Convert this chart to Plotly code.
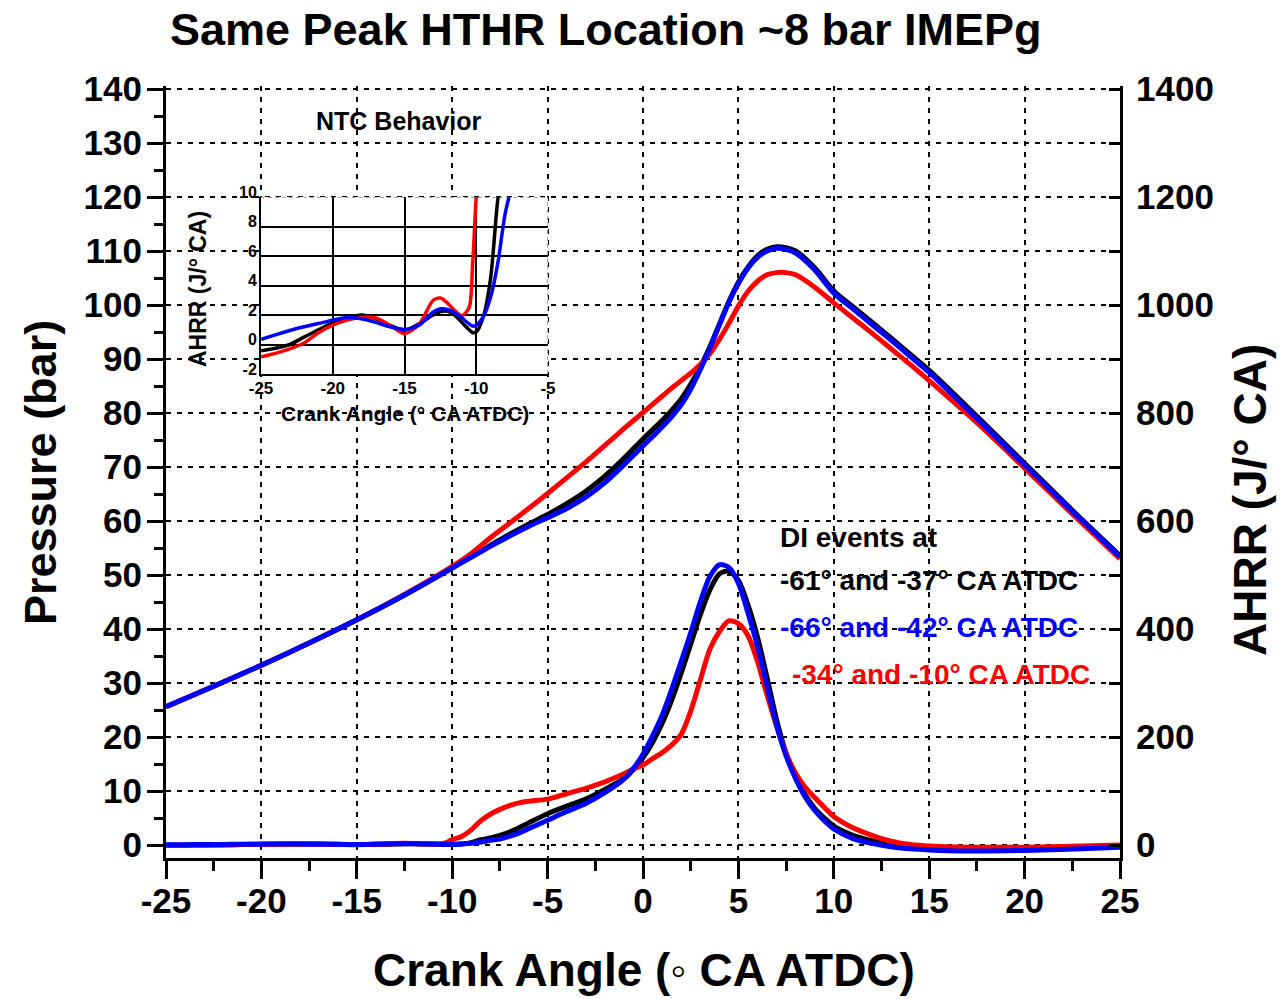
import plotly.graph_objects as go

# ---------------- data ----------------
# Pressure traces (bar) vs crank angle
x_p = [-25, -22.5, -20, -17.5, -15, -12.5, -10, -9, -8, -7, -6, -5, -4, -3, -2, -1,
       0, 0.5, 1, 1.5, 2, 2.5, 3, 3.5, 4, 4.5, 5, 5.5, 6, 6.5, 7, 7.5, 8,
       9, 10, 11, 12, 13, 14, 15, 17.5, 20, 22.5, 25]
p_black = [25.6, 29.4, 33.3, 37.4, 41.7, 46.3, 51.3, 53.4, 55.5, 57.5, 59.4, 61.2, 63.2, 65.5, 68.3, 71.6,
           75.2, 76.9, 78.6, 80.5, 82.6, 85.3, 88.5, 92.2, 96.4, 100.6, 104.2, 107.0, 109.1, 110.3, 110.8, 110.6, 110.0,
           106.9, 102.6, 99.7, 96.8, 93.9, 90.9, 87.9, 79.4, 70.7, 62.0, 53.6]
p_blue = [25.6, 29.4, 33.3, 37.4, 41.7, 46.3, 51.3, 53.3, 55.3, 57.2, 59.0, 60.6, 62.3, 64.4, 67.1, 70.4,
          73.9, 75.6, 77.4, 79.3, 81.5, 84.4, 88.0, 92.0, 96.3, 100.5, 104.0, 106.8, 108.8, 110.0, 110.5, 110.3, 109.6,
          106.5, 102.2, 99.3, 96.4, 93.5, 90.5, 87.5, 79.0, 70.4, 61.8, 53.4]
p_red = [25.6, 29.4, 33.3, 37.4, 41.7, 46.4, 51.6, 54.0, 56.9, 59.6, 62.3, 65.1, 68.0, 70.9, 74.0, 77.1,
         80.1, 81.6, 83.1, 84.6, 86.0, 87.4, 89.0, 91.0, 93.6, 96.6, 99.8, 102.5, 104.4, 105.6, 106.0, 106.0, 105.6,
         103.3, 100.4, 97.6, 94.8, 91.9, 89.0, 86.0, 78.2, 69.8, 61.3, 53.0]

# Apparent heat release rate (J/deg CA) vs crank angle
x_h = [-25, -24, -23, -22, -21, -20, -19, -18, -17, -16, -15, -14, -13,
       -12.5, -12, -11.5, -11, -10.5, -10.25, -10, -9.5, -9, -8.5, -8, -7.5, -7, -6.5, -6,
       -5, -4, -3, -2, -1, -0.5,
       0, 0.5, 1, 1.5, 2, 2.5, 3, 3.5, 4, 4.5, 5, 5.5, 6, 6.5, 7, 7.5, 8, 8.5, 9, 9.5, 10,
       11, 12, 13, 14, 15, 17, 20, 23, 25]
h_black = [-0.43, -0.25, 0.0, 0.5, 1.0, 1.47, 1.8, 2.0, 1.75, 1.3, 0.97, 1.4, 2.0,
           2.22, 2.25, 2.0, 1.5, 1.0, 0.8, 0.85, 1.9, 4.5, 9.8, 13, 18, 24, 32, 41,
           58, 72, 85, 103, 123, 140,
           162, 190, 225, 268, 318, 372, 426, 472, 502, 507, 490, 445, 385, 310, 232, 170, 125, 93, 68, 50, 35,
           18, 8, 0, -4, -6, -8, -7, -4, -1]
h_blue = [0.35, 0.65, 0.95, 1.2, 1.42, 1.65, 1.83, 1.75, 1.5, 1.2, 1.02, 1.3, 2.2,
          2.42, 2.38, 2.15, 1.8, 1.4, 1.25, 1.3, 1.9, 3.2, 5.5, 8.8, 11, 16, 22, 30,
          46, 62, 77, 97, 122, 142,
          168, 202, 240, 288, 340, 393, 450, 497, 519, 514, 485, 430, 368, 295, 222, 165, 123, 89, 64, 45, 30,
          12, 3, -3, -7, -9, -11, -10, -7, -4]
h_red = [-0.84, -0.6, -0.3, 0.1, 0.8, 1.31, 1.65, 1.85, 1.8, 1.3, 0.74, 1.35, 3.0,
         3.15, 2.8, 2.3, 1.95, 2.5, 5.5, 10, 16, 28, 45, 57, 66, 73, 78, 81,
         85, 95, 105, 117, 132, 141,
         148, 160, 171, 185, 205, 248, 305, 362, 395, 415, 410, 388, 340, 278, 220, 170, 133, 107, 88, 70, 53,
         32, 18, 7, 1, -2, -4, -4, -2, 0]

# Tick labels
x_ticks = [-25, -20, -15, -10, -5, 0, 5, 10, 15, 20, 25]
x_ticktext = ["-25", "-20", "-15", "-10", "-5", "0", "5", "10", "15", "20", "25"]
inset_x_ticks = [-25, -20, -15, -10, -5]
inset_x_ticktext = ["-25", "-20", "-15", "-10", "-5"]
inset_y_ticks = [-2, 0, 2, 4, 6, 8, 10]
inset_y_ticktext = ["-2", "0", "2", "4", "6", "8", "10"]

legend_lines = ["-61° and -37° CA ATDC", "-66° and -42° CA ATDC", "-34° and -10° CA ATDC"]

# ---------------- figure ----------------
W, H = 1281, 999
FONT = "Liberation Sans, Arial, sans-serif"


def fx(p):
    return p / W


def fy(p):
    return 1 - p / H


def bold(size, color="black"):
    return dict(family=FONT, size=size, color=color, weight="bold")


fig = go.Figure()

series = [("black", p_black, h_black), ("red", p_red, h_red), ("blue", p_blue, h_blue)]
line_shape = dict(shape="spline", smoothing=0.8)

for c, p, h in series:
    fig.add_trace(go.Scatter(x=x_p, y=p, mode="lines", xaxis="x", yaxis="y",
                             line=dict(color=c, width=5, **line_shape), hoverinfo="skip"))
for c, p, h in series:
    fig.add_trace(go.Scatter(x=x_h, y=h, mode="lines", xaxis="x", yaxis="y2",
                             line=dict(color=c, width=5, **line_shape), hoverinfo="skip"))
for c, p, h in series:
    fig.add_trace(go.Scatter(x=x_h, y=h, mode="lines", xaxis="x3", yaxis="y3",
                             line=dict(color=c, width=3.5, **line_shape), hoverinfo="skip"))

tick_common = dict(tickcolor="black", tickwidth=3, showline=True, linewidth=3, linecolor="black",
                   zeroline=False, tickfont=bold(35), automargin=False)

fig.update_layout(
    width=W, height=H, margin=dict(l=0, r=0, t=0, b=0, pad=0, autoexpand=False),
    paper_bgcolor="white", plot_bgcolor="white", showlegend=False,
    xaxis=dict(domain=[fx(166), fx(1120)], range=[-25, 25], anchor="y",
               tickmode="array", tickvals=x_ticks, ticktext=x_ticktext,
               ticks="outside", ticklen=18, ticklabelstandoff=-8,
               showgrid=True, gridcolor="black", gridwidth=2, griddash="5px,6px",
               minor=dict(tickmode="linear", dtick=2.5, tick0=-25, ticklen=10, tickwidth=3,
                          tickcolor="black", ticks="outside", showgrid=False),
               **tick_common),
    yaxis=dict(domain=[fy(858), fy(86.3)], range=[-2.4, 140.5], anchor="x",
               tickmode="linear", tick0=0, dtick=10, ticks="outside", ticklen=16,
               ticklabelstandoff=-2,
               showgrid=True, gridcolor="black", gridwidth=2, griddash="5px,6px",
               minor=dict(dtick=5, tick0=0, ticklen=9, tickwidth=3, tickcolor="black",
                          ticks="outside", showgrid=False),
               **tick_common),
    yaxis2=dict(overlaying="y", side="right", anchor="x", range=[-24, 1405],
                tickmode="linear", tick0=0, dtick=200, ticks="inside", ticklen=11,
                ticklabelstandoff=6, showgrid=False,
                minor=dict(dtick=100, tick0=0, ticklen=11, tickwidth=3, tickcolor="black",
                           ticks="inside", showgrid=False),
                **tick_common),
    xaxis3=dict(domain=[fx(261), fx(548)], range=[-25, -5], anchor="y3",
                tickmode="array", tickvals=inset_x_ticks, ticktext=inset_x_ticktext, ticks="",
                ticklabelstandoff=-2,
                showline=True, linewidth=2, linecolor="black", zeroline=False,
                showgrid=True, gridcolor="black", gridwidth=1.5, automargin=False,
                tickfont=bold(17)),
    yaxis3=dict(domain=[fy(374), fy(197)], range=[-2, 10], anchor="x3",
                tickmode="array", tickvals=inset_y_ticks, ticktext=inset_y_ticktext, ticks="",
                ticklabelshift=-5, ticklabelstandoff=-1,
                showline=True, linewidth=2, linecolor="black", zeroline=False,
                showgrid=True, gridcolor="black", gridwidth=1.5, automargin=False,
                tickfont=bold(16)),
)

shapes = [
    dict(type="rect", xref="x3", yref="y3", x0=-25, x1=-5, y0=-2, y1=10,
         fillcolor="white", line=dict(width=0), layer="below"),
    dict(type="line", xref="x3", yref="y3", x0=-25, x1=-5, y0=10, y1=10,
         line=dict(color="#555555", width=1, dash="4px,3px"), layer="above"),
    dict(type="line", xref="x3", yref="y3", x0=-5, x1=-5, y0=-2, y1=10,
         line=dict(color="#555555", width=1, dash="4px,3px"), layer="above"),
]
fig.update_layout(shapes=shapes)

ann = []


def text(s, xp, yp, size, color="black", xanchor="center", angle=0):
    ann.append(dict(text=s, x=fx(xp), y=fy(yp), xref="paper", yref="paper",
                    xanchor=xanchor, yanchor="middle", showarrow=False,
                    font=bold(size, color), textangle=angle))


text("Same Peak HTHR Location ~8 bar IMEPg", 606, 30, 45)
text("Crank Angle (◦ CA ATDC)", 644, 970, 46)
text("Pressure (bar)", 40, 473, 45, angle=-90)
text("AHRR (J/° CA)", 1250, 500, 46, angle=-90)
text("NTC Behavior", 399, 121, 25)
text("AHRR (J/° CA)", 198, 289, 23, angle=-90)
text("Crank Angle (° CA ATDC)", 405, 413, 21)
text("DI events at", 778, 537, 28, xanchor="left")
text(legend_lines[0], 778, 580, 28, "black", xanchor="left")
text(legend_lines[1], 778, 627, 28, "blue", xanchor="left")
text(legend_lines[2], 790, 674, 28, "red", xanchor="left")

fig.update_layout(annotations=ann)

fig.write_html("out.html")
